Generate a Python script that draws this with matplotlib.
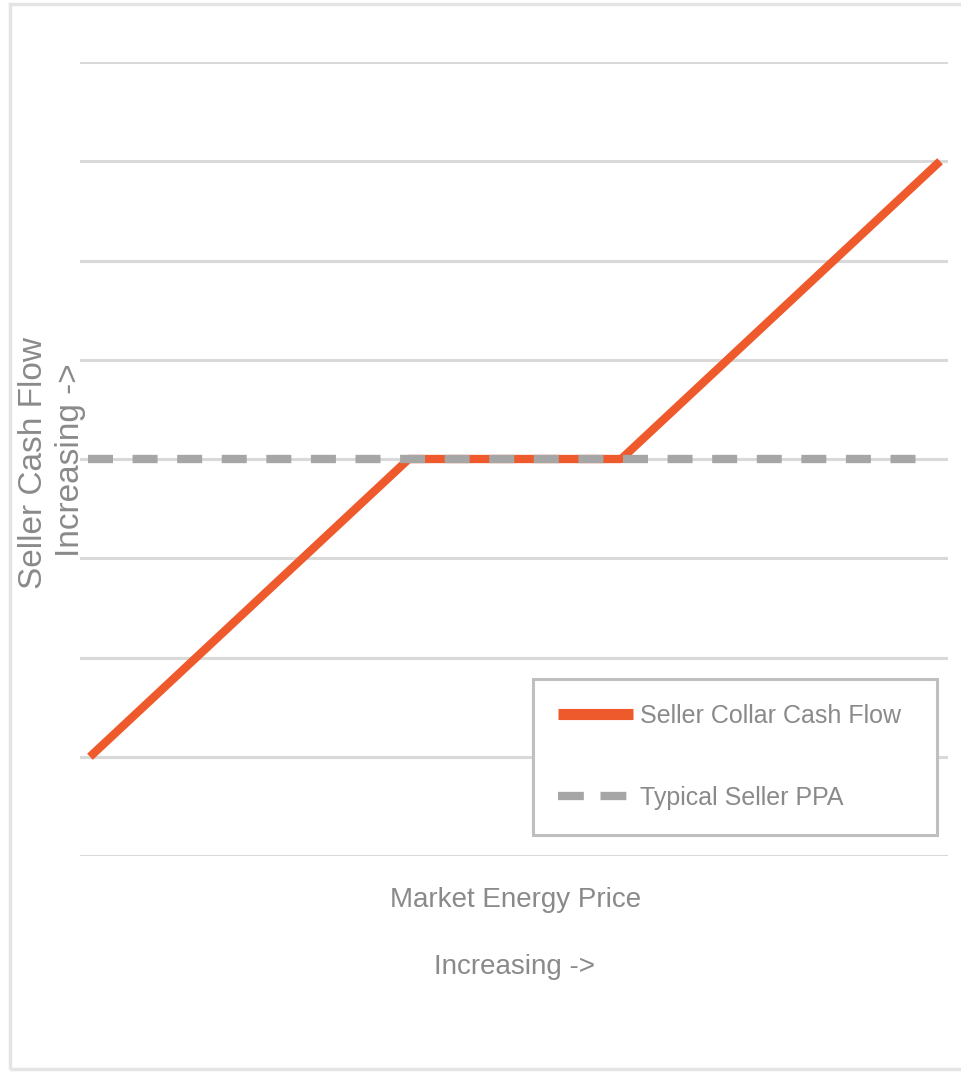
import numpy as np
import matplotlib
matplotlib.use("Agg")
import matplotlib.pyplot as plt
from matplotlib.lines import Line2D

# collar payoff: market price (x) vs seller cash flow (y)
price = [0, 3, 5, 8]
collar_flow = [1, 4, 4, 7]
ppa_price = [-0.02, 7.79]
ppa_flow = [4, 4]
grid_levels = list(range(0, 9))

orange = "#EF5A2C"
gray_line = "#A6A6A6"
text_gray = "#8A8A8A"

fig = plt.figure(figsize=(9.61, 10.75), dpi=100)
ax = fig.add_axes([80 / 961, 1 - 856 / 1075, 868 / 961, 794 / 1075])

for g in grid_levels:
    ax.axhline(g, color="#D9D9D9", linewidth=2.2, zorder=0)

ax.plot(price, collar_flow, color=orange, linewidth=6.0,
        solid_capstyle="butt", zorder=3, label="Seller Collar Cash Flow")
ax.plot(ppa_price, ppa_flow, color=gray_line, linewidth=6.0,
        dashes=(3.0, 2.35), dash_capstyle="butt", zorder=4,
        label="Typical Seller PPA")

ax.set_xlim(-0.094, 8.075)
ax.set_ylim(0, 8)
ax.set_xticks([])
ax.set_yticks([])
for s in ax.spines.values():
    s.set_visible(False)

fam = ["Liberation Sans", "DejaVu Sans"]
fig.text(516 / 961, 1 - 900 / 1075, "Market Energy Price", ha="center", va="center",
         color=text_gray, fontsize=20, family=fam)
fig.text(515 / 961, 1 - 967 / 1075, "Increasing ->", ha="center", va="center",
         color=text_gray, fontsize=20, family=fam)
fig.text(34 / 961, 1 - 463 / 1075, "Seller Cash Flow", ha="center", va="center",
         rotation=90, color=text_gray, fontsize=24, family=fam)
fig.text(71 / 961, 1 - 460 / 1075, "Increasing ->", ha="center", va="center",
         rotation=90, color=text_gray, fontsize=24, family=fam)

handles = [
    Line2D([0], [0], color=orange, linewidth=8, solid_capstyle="butt"),
    Line2D([0], [0], color=gray_line, linewidth=6, dashes=(3.1, 2.0),
           dash_capstyle="butt"),
]
leg = ax.legend(handles, ["Seller Collar Cash Flow", "Typical Seller PPA"],
                loc="lower left", mode="expand",
                bbox_to_anchor=(533 / 961, 1 - 835 / 1075, 404 / 961, 155 / 1075),
                bbox_transform=fig.transFigure,
                prop={"family": fam, "size": 18}, labelcolor=text_gray,
                handlelength=3.0, handletextpad=0.28, labelspacing=2.32,
                borderpad=1.0, fancybox=False, framealpha=1, borderaxespad=0)
leg.get_frame().set_edgecolor("#BFBFBF")
leg.get_frame().set_linewidth(2.2)
leg.set_zorder(6)

# outer chart border
fig.patches.append(plt.Rectangle((10 / 961, 1 - 1069 / 1075), 960 / 961, 1065 / 1075,
                                 transform=fig.transFigure, fill=False,
                                 edgecolor="#E4E4E4", linewidth=2.5))

fig.savefig("out.png", dpi=100)
